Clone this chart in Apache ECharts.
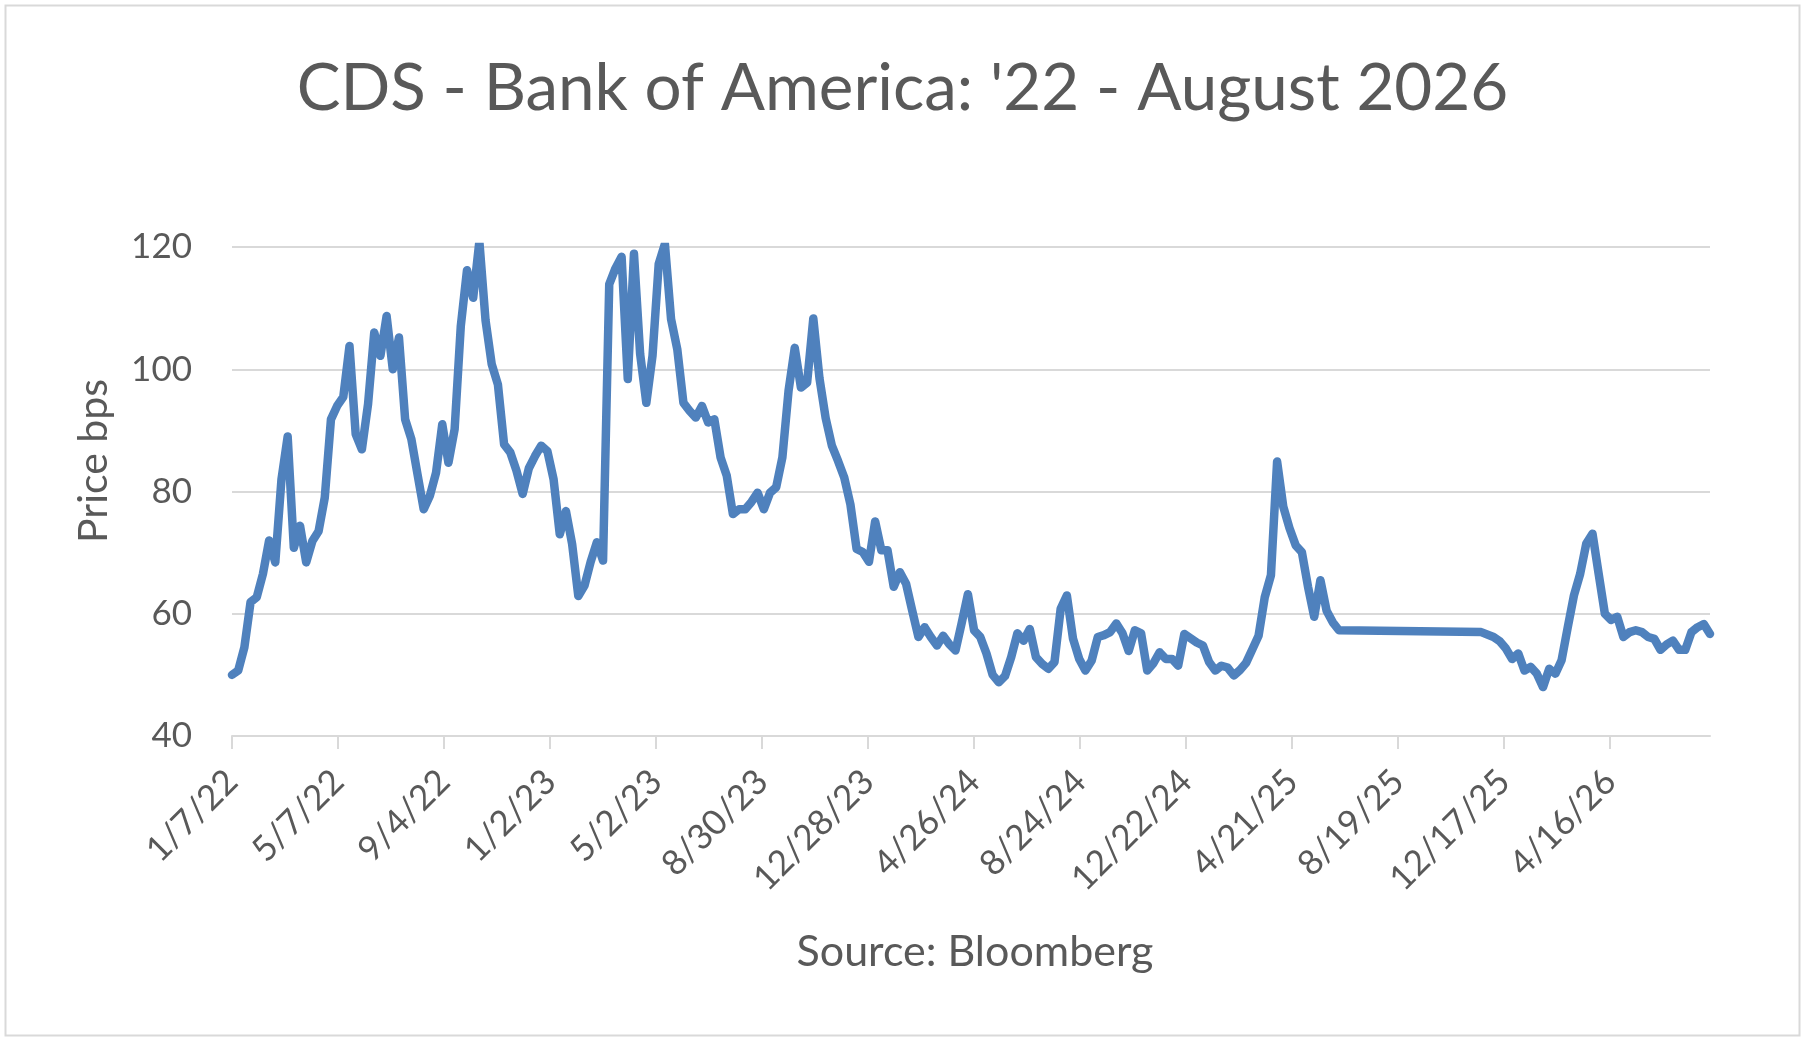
<!DOCTYPE html>
<html>
<head>
	<meta charset="UTF-8">
	<title>CDS - Bank of America</title>
	<style>
		html, body { margin: 0; padding: 0; background: #fff; }
		#chart { width: 1805px; height: 1045px; }
	</style>
</head>
<body>
	<div id="chart"></div>

	<script src="https://cdn.jsdelivr.net/npm/echarts@6/dist/echarts.min.js"></script>
	<script type="text/javascript">

		// weekly observation dates (gap mid-2025 is in the source data)
		var dates = [
			'2022-01-07','2022-01-14','2022-01-21','2022-01-28','2022-02-04','2022-02-11','2022-02-18','2022-02-25',
			'2022-03-04','2022-03-11','2022-03-18','2022-03-25','2022-04-01','2022-04-08','2022-04-15','2022-04-22',
			'2022-04-29','2022-05-06','2022-05-13','2022-05-20','2022-05-27','2022-06-03','2022-06-10','2022-06-17',
			'2022-06-24','2022-07-01','2022-07-08','2022-07-15','2022-07-22','2022-07-29','2022-08-05','2022-08-12',
			'2022-08-19','2022-08-26','2022-09-02','2022-09-09','2022-09-16','2022-09-23','2022-09-30','2022-10-07',
			'2022-10-14','2022-10-21','2022-10-28','2022-11-04','2022-11-11','2022-11-18','2022-11-25','2022-12-02',
			'2022-12-09','2022-12-16','2022-12-23','2022-12-30','2023-01-06','2023-01-13','2023-01-20','2023-01-27',
			'2023-02-03','2023-02-10','2023-02-17','2023-02-24','2023-03-03','2023-03-10','2023-03-17','2023-03-24',
			'2023-03-31','2023-04-07','2023-04-14','2023-04-21','2023-04-28','2023-05-05','2023-05-12','2023-05-19',
			'2023-05-26','2023-06-02','2023-06-09','2023-06-16','2023-06-23','2023-06-30','2023-07-07','2023-07-14',
			'2023-07-21','2023-07-28','2023-08-04','2023-08-11','2023-08-18','2023-08-25','2023-09-01','2023-09-08',
			'2023-09-15','2023-09-22','2023-09-29','2023-10-06','2023-10-13','2023-10-20','2023-10-27','2023-11-03',
			'2023-11-10','2023-11-17','2023-11-24','2023-12-01','2023-12-08','2023-12-15','2023-12-22','2023-12-29',
			'2024-01-05','2024-01-12','2024-01-19','2024-01-26','2024-02-02','2024-02-09','2024-02-16','2024-02-23',
			'2024-03-01','2024-03-08','2024-03-15','2024-03-22','2024-03-29','2024-04-05','2024-04-12','2024-04-19',
			'2024-04-26','2024-05-03','2024-05-10','2024-05-17','2024-05-24','2024-05-31','2024-06-07','2024-06-14',
			'2024-06-21','2024-06-28','2024-07-05','2024-07-12','2024-07-19','2024-07-26','2024-08-02','2024-08-09',
			'2024-08-16','2024-08-23','2024-08-30','2024-09-06','2024-09-13','2024-09-20','2024-09-27','2024-10-04',
			'2024-10-11','2024-10-18','2024-10-25','2024-11-01','2024-11-08','2024-11-15','2024-11-22','2024-11-29',
			'2024-12-06','2024-12-13','2024-12-20','2024-12-27','2025-01-03','2025-01-10','2025-01-17','2025-01-24',
			'2025-01-31','2025-02-07','2025-02-14','2025-02-21','2025-02-28','2025-03-07','2025-03-14','2025-03-21',
			'2025-03-28','2025-04-04','2025-04-11','2025-04-18','2025-04-25','2025-05-02','2025-05-09','2025-05-16',
			'2025-05-23','2025-05-30','2025-06-06','2025-06-13',
			'2025-11-21','2025-12-05','2025-12-12','2025-12-19','2025-12-26','2026-01-02','2026-01-09','2026-01-16',
			'2026-01-23','2026-01-30','2026-02-06','2026-02-13','2026-02-20','2026-02-27','2026-03-06','2026-03-13',
			'2026-03-20','2026-03-27','2026-04-03','2026-04-10','2026-04-17','2026-04-24','2026-05-01','2026-05-08',
			'2026-05-15','2026-05-22','2026-05-29','2026-06-05','2026-06-12','2026-06-19','2026-06-26','2026-07-03',
			'2026-07-10','2026-07-17','2026-07-24','2026-07-31','2026-08-07'
		];

		// CDS spread, bps
		var spreads = [
			50.0, 50.7, 54.5, 61.9, 62.7, 66.5, 72.0, 68.4,
			82.0, 89.0, 70.8, 74.4, 68.4, 71.9, 73.5, 79.0,
			91.8, 94.0, 95.5, 103.8, 89.4, 86.9, 94.3, 106.0,
			102.2, 108.7, 100.0, 105.2, 91.8, 88.6, 82.8, 77.1,
			79.3, 83.1, 91.0, 84.7, 90.2, 107.1, 116.2, 111.7,
			120.9, 108.0, 100.8, 97.5, 87.7, 86.4, 83.4, 79.6,
			83.8, 85.8, 87.5, 86.6, 82.0, 73.0, 76.8, 71.4,
			62.9, 64.6, 68.5, 71.7, 68.7, 113.9, 116.5, 118.4,
			98.4, 118.9, 102.5, 94.5, 102.2, 117.2, 120.5, 108.2,
			103.3, 94.5, 93.2, 92.1, 94.0, 91.3, 91.8, 85.6,
			82.6, 76.3, 77.1, 77.1, 78.3, 79.8, 77.1, 79.8,
			80.7, 85.6, 96.5, 103.5, 97.0, 97.8, 108.3, 98.5,
			92.0, 87.5, 85.0, 82.3, 77.9, 70.6, 70.1, 68.5,
			75.1, 70.4, 70.4, 64.4, 66.8, 64.9, 60.5, 56.2,
			57.8, 56.2, 54.8, 56.4, 55.0, 54.0, 58.5, 63.2,
			57.3, 56.2, 53.5, 50.0, 48.8, 49.8, 52.9, 56.8,
			55.6, 57.5, 52.9, 51.8, 51.0, 52.1, 60.8, 63.0,
			55.9, 52.6, 50.7, 52.3, 56.2, 56.5, 57.0, 58.4,
			56.8, 53.9, 57.3, 56.8, 50.7, 51.9, 53.7, 52.6,
			52.6, 51.5, 56.7, 56.0, 55.3, 54.8, 52.1, 50.7,
			51.5, 51.2, 49.9, 50.8, 52.0, 54.2, 56.4, 62.7,
			66.3, 84.9, 77.5, 74.0, 71.2, 70.1, 64.4, 59.5,
			65.5, 60.5, 58.6, 57.3,
			57.0, 56.2, 55.5, 54.3, 52.6, 53.5, 50.7, 51.3,
			50.2, 48.0, 51.0, 50.2, 52.4, 57.8, 63.0, 66.5,
			71.5, 73.1, 66.5, 60.0, 59.0, 59.5, 56.2, 57.0,
			57.3, 57.0, 56.2, 55.9, 54.1, 55.0, 55.6, 54.1,
			54.1, 57.0, 57.8, 58.3, 56.7
		];

		// x axis: days since first observation, a tick every 120 days
		var startDate = '2022-01-07';
		var endDate = '2026-08-07';
		var tickStepDays = 120;
		var yTicks = [40, 60, 80, 100, 120];

		function toUtc(s) {
			var p = s.split('-');
			return Date.UTC(+p[0], +p[1] - 1, +p[2]);
		}
		var DAY = 86400000;
		var t0 = toUtc(startDate);
		var maxDay = (toUtc(endDate) - t0) / DAY;

		var points = [];
		for (var i = 0; i < dates.length; i++) {
			points.push([(toUtc(dates[i]) - t0) / DAY, spreads[i]]);
		}

		var tickDays = [];
		for (var d = 0; d <= maxDay; d += tickStepDays) {
			tickDays.push(d);
		}

		function dayLabel(v) {
			var dt = new Date(t0 + v * DAY);
			return (dt.getUTCMonth() + 1) + '/' + dt.getUTCDate() + '/' + String(dt.getUTCFullYear()).slice(2);
		}

		var FONT = 'Lato';
		var TEXT = '#595959';

		var myChart = echarts.init(document.getElementById('chart'));

		var option = {
			backgroundColor: '#fff',
			animation: false,
			title: [{
				text: "CDS - Bank of America: '22 - August 2026",
				left: 'center',
				top: 51,
				textStyle: { fontFamily: FONT, fontSize: 65.5, fontWeight: 'normal', color: TEXT }
			}, {
				text: 'Source: Bloomberg',
				left: 970,
				textAlign: 'center',
				top: 926,
				textStyle: { fontFamily: FONT, fontSize: 43, fontWeight: 'normal', color: TEXT }
			}],
			graphic: [{
				type: 'rect',
				shape: { x: 5.5, y: 5.5, width: 1794, height: 1030 },
				style: { fill: 'none', stroke: '#D9D9D9', lineWidth: 2 },
				silent: true
			}, {
				// y axis title sits a little above the plot centre in the original
				type: 'text',
				x: 94,
				y: 461,
				rotation: Math.PI / 2,
				style: {
					text: 'Price bps',
					fontFamily: FONT,
					fontSize: 41,
					fill: TEXT,
					align: 'center',
					verticalAlign: 'middle'
				},
				silent: true
			}],
			grid: {
				left: 232,
				right: 95,
				top: 247,
				bottom: 309
			},
			xAxis: {
				type: 'value',
				min: 0,
				max: maxDay,
				interval: tickStepDays,
				splitLine: { show: false },
				axisLine: { show: true, lineStyle: { color: '#D9D9D9', width: 2 } },
				axisTick: { show: true, customValues: tickDays, length: 13, lineStyle: { color: '#D9D9D9', width: 2 } },
				axisLabel: {
					customValues: tickDays,
					rotate: 45,
					margin: 40,
					fontFamily: FONT,
					fontSize: 35,
					color: TEXT,
					formatter: dayLabel
				}
			},
			yAxis: {
				type: 'value',
				min: yTicks[0],
				max: yTicks[yTicks.length - 1],
				interval: 20,
				axisLine: { show: false },
				axisTick: { show: false },
				splitLine: { lineStyle: { color: '#D9D9D9', width: 2 } },
				axisLabel: { margin: 40, fontFamily: FONT, fontSize: 35, color: TEXT }
			},
			series: [{
				name: 'CDS',
				type: 'line',
				data: points,
				showSymbol: false,
				smooth: false,
				lineStyle: { color: '#4F81BD', width: 8.5, join: 'round', cap: 'round' }
			}]
		};

		myChart.setOption(option);

	</script>
</body>
</html>
